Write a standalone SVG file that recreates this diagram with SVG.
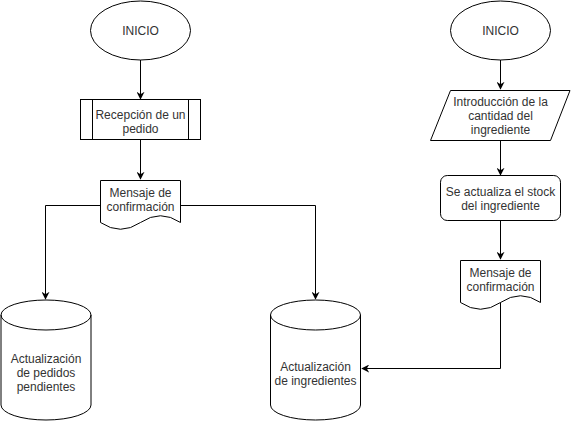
<svg xmlns="http://www.w3.org/2000/svg" width="571" height="422" viewBox="0 0 571 422">
<style>
.s{fill:#fff;stroke:#000;stroke-width:1}
.t{font-family:"Liberation Sans",Arial,sans-serif;font-size:12px;fill:#333;text-anchor:middle}
.c{fill:none;stroke:#000;stroke-width:1}
</style>
<defs>
<marker id="a" viewBox="0 0 10 10" refX="9" refY="5" markerWidth="8" markerHeight="8" markerUnits="userSpaceOnUse" orient="auto">
<path d="M0,0 L10,5 L0,10 L3,5 Z" fill="#000"/>
</marker>
</defs>
<rect width="571" height="422" fill="#fff"/>
<g id="connectors">
<path class="c" d="M140.5,60 V99" marker-end="url(#a)"/>
<path class="c" d="M140.5,140 V179" marker-end="url(#a)"/>
<path class="c" d="M100,205.5 H45.5 V299" marker-end="url(#a)"/>
<path class="c" d="M180,205.5 H315.5 V299" marker-end="url(#a)"/>
<path class="c" d="M500.5,60 V89" marker-end="url(#a)"/>
<path class="c" d="M500.5,140 V175" marker-end="url(#a)"/>
<path class="c" d="M500.5,220 V259" marker-end="url(#a)"/>
<path class="c" d="M500.5,302 V368.5 H362" marker-end="url(#a)"/>
</g>
<g id="inicio1">
<ellipse class="s" cx="140.5" cy="30.5" rx="50" ry="29.5"/>
<text class="t" x="140.5" y="34.5">INICIO</text>
</g>
<g id="recepcion">
<rect class="s" x="80.5" y="99.5" width="120" height="40"/>
<path class="c" d="M92.5,99.5 V139.5 M188.5,99.5 V139.5"/>
<text class="t" x="140.5" y="118.5">Recepción de un</text>
<text class="t" x="140.5" y="132.5">pedido</text>
</g>
<g id="mensaje1">
<path class="s" d="M100.5,180.5 H180.5 V222.5 Q160.5,209 140.5,222.5 Q120.5,236 100.5,222.5 Z"/>
<text class="t" x="140.5" y="197">Mensaje de</text>
<text class="t" x="140.5" y="211">confirmación</text>
</g>
<g id="pedidos">
<path class="s" d="M1,315 A45,15 0 0 1 91,315 V405 A45,15 0 0 1 1,405 Z"/>
<path class="c" d="M1,315 A45,15 0 0 0 91,315"/>
<text class="t" x="46" y="363">Actualización</text>
<text class="t" x="46" y="377">de pedidos</text>
<text class="t" x="46" y="391">pendientes</text>
</g>
<g id="ingredientes">
<path class="s" d="M270.5,315 A45,15 0 0 1 360.5,315 V405 A45,15 0 0 1 270.5,405 Z"/>
<path class="c" d="M270.5,315 A45,15 0 0 0 360.5,315"/>
<text class="t" x="315.5" y="370.5">Actualización</text>
<text class="t" x="315.5" y="384.5">de ingredientes</text>
</g>
<g id="inicio2">
<ellipse class="s" cx="500.5" cy="30.5" rx="50" ry="29.5"/>
<text class="t" x="500.5" y="34.5">INICIO</text>
</g>
<g id="introduccion">
<path class="s" d="M450.5,90.5 H570 L550.5,140.5 H430.5 Z"/>
<text class="t" x="500.5" y="106">Introducción de la</text>
<text class="t" x="500.5" y="120">cantidad del</text>
<text class="t" x="500.5" y="134">ingrediente</text>
</g>
<g id="stock">
<rect class="s" x="440.5" y="175.5" width="120" height="45" rx="6.75" ry="6.75"/>
<text class="t" x="500.5" y="195.5">Se actualiza el stock</text>
<text class="t" x="500.5" y="209.5">del ingrediente</text>
</g>
<g id="mensaje2">
<path class="s" d="M460.5,260.5 H540.5 V302.5 Q520.5,289 500.5,302.5 Q480.5,316 460.5,302.5 Z"/>
<text class="t" x="500.5" y="277">Mensaje de</text>
<text class="t" x="500.5" y="291">confirmación</text>
</g>
</svg>
